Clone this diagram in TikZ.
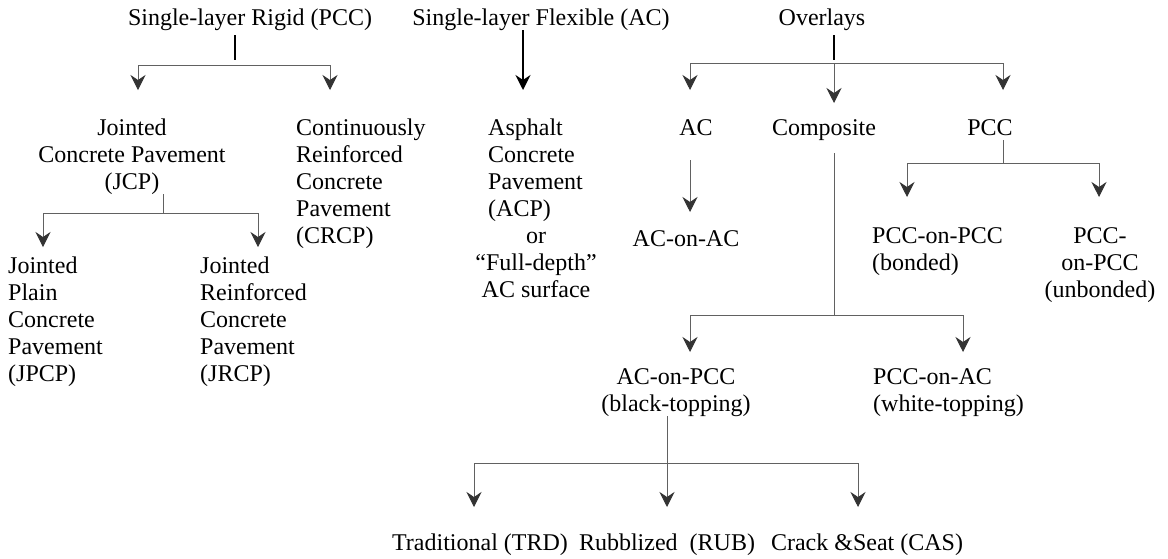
\documentclass[tikz,border=0pt]{standalone}
\usepackage{fontspec}
\setmainfont{Liberation Serif}
\usetikzlibrary{arrows.meta}
\begin{document}
\begin{tikzpicture}[x=1pt,y=-1pt,
  lbl/.style={inner sep=0pt, font=\fontsize{24}{27}\selectfont},
  conn/.style={draw=black!62, line width=1pt, -{Stealth[length=15pt,width=15pt,inset=5pt,color=black!80]}},
  bar/.style={draw=black!62, line width=1pt},
  stub/.style={draw=black, line width=1.6pt},
  flexarrow/.style={draw=black, line width=1.8pt, -{Stealth[length=15pt,width=15pt,inset=5pt]}}]
\useasboundingbox (0,0) rectangle (1168,558);

% top row (anchor base = baseline of the last line)
\node[lbl, anchor=base] (rigid) at (250,25) {Single-layer Rigid (PCC)};
\node[lbl, anchor=base] (flex) at (541,25) {Single-layer Flexible (AC)};
\node[lbl, anchor=base] (over) at (822,25) {Overlays};

% second row
\node[lbl, anchor=base, align=center] (jcp) at (132,189) {Jointed\\Concrete Pavement\\(JCP)};
\node[lbl, anchor=base west, align=left] (crcp) at (296,243) {Continuously\\Reinforced\\Concrete\\Pavement\\(CRCP)};
\node[lbl, anchor=base west, align=left] (acp) at (488,216) {Asphalt\\Concrete\\Pavement\\(ACP)};
\node[lbl, anchor=base, align=center] (acpor) at (536,297) {or\\“Full-depth”\\AC surface};
\node[lbl, anchor=base] (ac) at (696,135) {AC};
\node[lbl, anchor=base] (comp) at (824,135) {Composite};
\node[lbl, anchor=base] (pcc) at (990,135) {PCC};

% third row
\node[lbl, anchor=base west, align=left] (jpcp) at (8,381) {Jointed\\Plain\\Concrete\\Pavement\\(JPCP)};
\node[lbl, anchor=base west, align=left] (jrcp) at (200,381) {Jointed\\Reinforced\\Concrete\\Pavement\\(JRCP)};
\node[lbl, anchor=base] (acac) at (686,246) {AC-on-AC};
\node[lbl, anchor=base west, align=left] (pccpcc) at (872,270) {PCC-on-PCC\\(bonded)};
\node[lbl, anchor=base, align=center] (unb) at (1100,297) {PCC-\\on-PCC\\(unbonded)};

% fourth row
\node[lbl, anchor=base, align=center] (acpcc) at (676,411) {AC-on-PCC\\(black-topping)};
\node[lbl, anchor=base west, align=left] (pccac) at (873,411) {PCC-on-AC\\(white-topping)};

% bottom row
\node[lbl, anchor=base] (trd) at (480,550) {Traditional (TRD)};
\node[lbl, anchor=base] (rub) at (667,550) {Rubblized\ \ (RUB)};
\node[lbl, anchor=base] (cas) at (867,550) {Crack \&Seat (CAS)};

% junctions and arrow tips
\coordinate (rigidJ) at (235,65);
\coordinate (jcpT) at (138,90);
\coordinate (crcpT) at (330,90);
\coordinate (acpT) at (523,90);
\coordinate (overJ) at (834,63);
\coordinate (acT) at (690,90);
\coordinate (compT) at (834,103);
\coordinate (pccT) at (1003,90);
\coordinate (jcpJ) at (163,213);
\coordinate (jpcpT) at (43,247);
\coordinate (jrcpT) at (258,247);
\coordinate (acacT) at (690,212);
\coordinate (pccJ) at (1003,163);
\coordinate (pccpccT) at (907,197);
\coordinate (unbT) at (1099,197);
\coordinate (compJ) at (834,315);
\coordinate (acpccT) at (690,352);
\coordinate (pccacT) at (963,352);
\coordinate (btJ) at (667,463);
\coordinate (trdT) at (474,507);
\coordinate (rubT) at (667,507);
\coordinate (casT) at (858,507);

% rigid
\draw[stub] ([yshift=-5pt]rigid.south -| rigidJ) -- ([yshift=5pt]rigidJ);
\draw[conn] (rigidJ) -| (jcpT);
\draw[conn] (rigidJ) -| (crcpT);
% flexible
\draw[flexarrow] (flex.south -| acpT) -- (acpT);
% overlays
\draw[stub] ([yshift=-5pt]over.south -| overJ) -- ([yshift=3pt]overJ);
\draw[conn] (overJ) -| (acT);
\draw[conn] (overJ) -- (compT);
\draw[conn] (overJ) -| (pccT);
% JCP
\draw[bar] (jcp.south -| jcpJ) -- (jcpJ);
\draw[conn] (jcpJ) -| (jpcpT);
\draw[conn] (jcpJ) -| (jrcpT);
% AC
\draw[conn] ([yshift=-25pt]ac.south -| acacT) -- (acacT);
% PCC
\draw[bar] ([yshift=-5pt]pcc.south -| pccJ) -- (pccJ);
\draw[conn] (pccJ) -| (pccpccT);
\draw[conn] (pccJ) -| (unbT);
% composite
\draw[bar] ([yshift=-13pt]comp.south -| compJ) -- (compJ);
\draw[conn] (compJ) -| (acpccT);
\draw[conn] (compJ) -| (pccacT);
% black-topping
\draw[bar] (acpcc.south -| btJ) -- (btJ);
\draw[conn] (btJ) -| (trdT);
\draw[conn] (btJ) -- (rubT);
\draw[conn] (btJ) -| (casT);
\end{tikzpicture}
\end{document}
